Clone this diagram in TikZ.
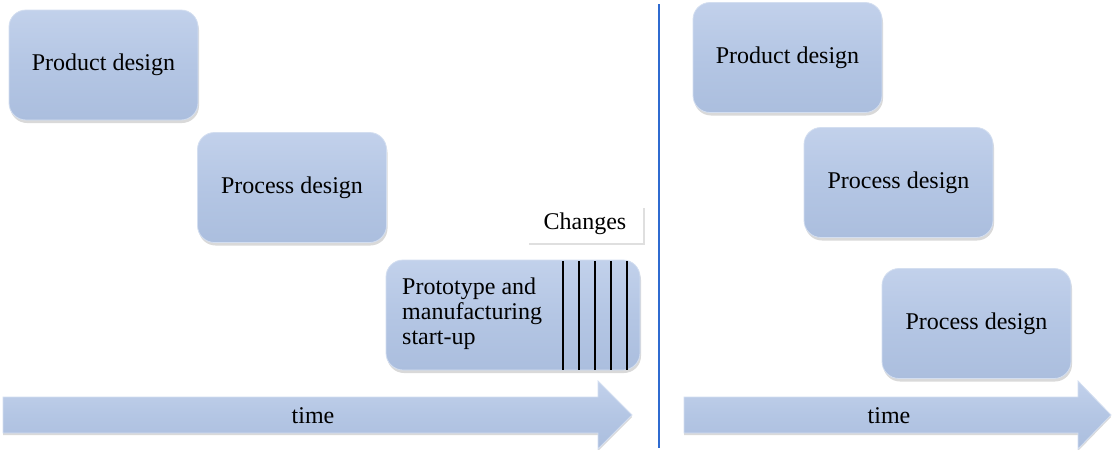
\documentclass[tikz,border=0pt]{standalone}
\usepackage{fontspec}
\setmainfont{Liberation Serif}
\usetikzlibrary{shadows}

\definecolor{boxtop}{HTML}{C2D1EB}
\definecolor{boxmid}{HTML}{B4C6E4}
\definecolor{boxbot}{HTML}{ABBEDE}
\definecolor{boxedge}{HTML}{D3DEF0}
\definecolor{divider}{HTML}{2F6BD0}

\tikzset{
  phase/.style={
    rounded corners=17pt, draw=boxedge, line width=0.8pt,
    top color=boxtop, bottom color=boxbot, middle color=boxmid,
    minimum width=189pt, minimum height=110pt, inner sep=0pt,
    font=\fontsize{24}{26}\selectfont,
    drop shadow={shadow xshift=1pt, shadow yshift=-3pt, opacity=0.3}
  },
  labeltext/.style={font=\fontsize{24}{25}\selectfont, inner sep=0pt, align=left},
  timearrow/.style={draw=boxedge, line width=0.8pt, top color=boxtop, bottom color=boxbot,
    middle color=boxmid,
    drop shadow={shadow xshift=0pt, shadow yshift=-2pt, opacity=0.3}},
  changebar/.style={line width=2.4pt, black}
}

\begin{document}
\begin{tikzpicture}[x=1pt, y=-1pt]
\useasboundingbox (0,0) rectangle (1112,450);

% ---- sequential development ----
\node[phase] (prodL) at (103.5,65) {\raisebox{-3pt}{Product design}};
\node[phase] (procL) at (292,187.5) {\raisebox{-3pt}{Process design}};
\node[phase, minimum width=254pt] (proto) at (513,315) {};
\node[labeltext, anchor=west] (protoText) at (402,314) {Prototype and\\manufacturing\\start-up};

% change marks across the prototype phase
\foreach \x in {563,579,595,611,627}
  \draw[changebar] (\x,261) -- (\x,370);

\node[fill=white, minimum width=116pt, minimum height=37pt, inner sep=0pt,
      font=\fontsize{24}{25}\selectfont,
      drop shadow={shadow xshift=2pt, shadow yshift=-2pt, opacity=0.25}]
      (changes) at (585,224) {Changes};

% time axis
\path[timearrow] (3,397) -- (598,397) -- (598,381) -- (632,415) -- (598,449)
  -- (598,433) -- (3,433) -- cycle;
\node[labeltext] (timeL) at (313,416) {time};

% divider
\coordinate (divTop) at (659,4);
\coordinate (divBot) at (659,448);
\draw[divider, line width=1.1pt] (divTop) -- (divBot);

% ---- overlapping development ----
\node[phase] (prodR) at (787.5,57.5) {\raisebox{-3pt}{Product design}};
\node[phase] (procR) at (898.5,182.5) {\raisebox{-3pt}{Process design}};
\node[phase] (procR2) at (976.5,323.5) {\raisebox{-3pt}{Process design}};

\path[timearrow] (684,397) -- (1078,397) -- (1078,381) -- (1111,415) -- (1078,449)
  -- (1078,433) -- (684,433) -- cycle;
\node[labeltext] (timeR) at (889,416) {time};
\end{tikzpicture}
\end{document}
